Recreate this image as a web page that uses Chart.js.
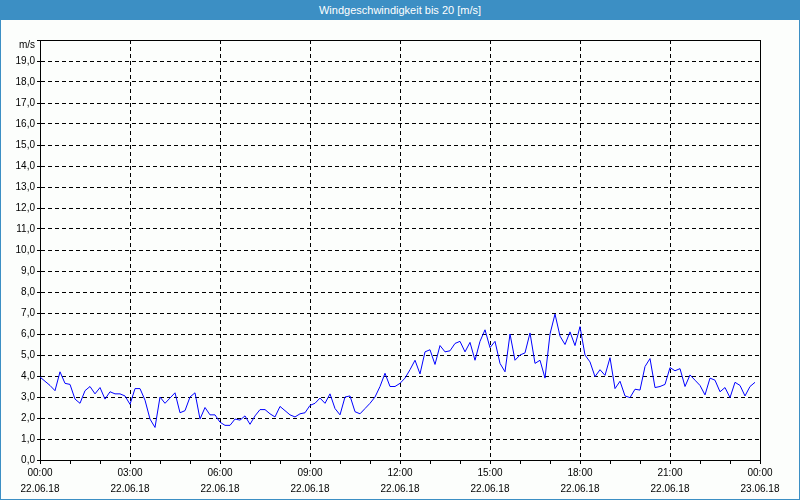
<!DOCTYPE html>
<html lang="de">
<head>
  <meta charset="UTF-8">
  <title>Windgeschwindigkeit bis 20 [m/s]</title>
  <style>
    body {
      margin: 0;
      background: #ffffff;
    }
    .title-bar {
      width: 800px;
      height: 20px;
      line-height: 20px;
      background: #3c8fc4;
      color: #ffffff;
      font-family: "Liberation Sans", Arial, sans-serif;
      font-size: 11px;
      text-align: center;
    }
    .frame {
      width: 800px;
      height: 480px;
      box-sizing: border-box;
      border: 1px solid #3c8fc4;
      border-top: none;
      background: #fcfefc;
    }
    canvas {
      display: block;
    }
  </style>
</head>
<body>

  <div class="title-bar">Windgeschwindigkeit bis 20 [m/s]</div>
  <div class="frame">
    <canvas id="windChart" width="798" height="479"></canvas>
  </div>

  <script src="https://cdn.jsdelivr.net/npm/chart.js"></script>

  <script>
    // Zeitachse: 22.06.18 00:00 bis 23.06.18 00:00, Messwert alle 10 Minuten
    const stepMinutes = 10;
    const timeLabels = ['00:00', '03:00', '06:00', '09:00', '12:00', '15:00', '18:00', '21:00', '00:00'];
    const dateLabels = ['22.06.18', '22.06.18', '22.06.18', '22.06.18', '22.06.18', '22.06.18', '22.06.18', '22.06.18', '23.06.18'];
    const unitLabel = 'm/s';

    // Windgeschwindigkeit in m/s
    const windSpeed = [
      3.95, 3.75, 3.55, 3.3, 4.2, 3.65, 3.6, 2.9, 2.7, 3.3,
      3.5, 3.15, 3.45, 2.9, 3.25, 3.15, 3.15, 3.05, 2.65, 3.4,
      3.4, 2.85, 1.95, 1.55, 3.0, 2.7, 2.95, 3.2, 2.25, 2.35,
      3.0, 3.2, 1.95, 2.5, 2.15, 2.15, 1.8, 1.65, 1.65, 1.95,
      1.9, 2.1, 1.7, 2.1, 2.4, 2.4, 2.2, 2.05, 2.55, 2.35,
      2.15, 2.05, 2.2, 2.25, 2.6, 2.7, 2.95, 2.7, 3.15, 2.45,
      2.15, 3.0, 3.05, 2.3, 2.2, 2.45, 2.7, 3.0, 3.5, 4.13,
      3.5, 3.5, 3.65, 3.9, 4.3, 4.75, 4.1, 5.15, 5.25, 4.55,
      5.45, 5.15, 5.2, 5.55, 5.65, 5.15, 5.6, 4.75, 5.65, 6.2,
      5.35, 5.65, 4.6, 4.2, 6.0, 4.75, 5.0, 5.1, 6.05, 4.6,
      4.75, 3.9, 6.0, 6.95, 5.9, 5.5, 6.1, 5.45, 6.35, 5.0,
      4.67, 3.97, 4.3, 4.03, 4.87, 3.4, 3.75, 3.05, 2.97, 3.37,
      3.33, 4.45, 4.83, 3.45, 3.5, 3.6, 4.4, 4.25, 4.35, 3.5,
      4.05, 3.8, 3.55, 3.1, 3.9, 3.8, 3.25, 3.45, 2.97, 3.7,
      3.55, 3.05, 3.5, 3.7
    ];

    const points = windSpeed.map((v, i) => ({ x: i * stepMinutes, y: v }));

    // Rahmen oben/rechts um den Plotbereich
    const frameBox = {
      id: 'frameBox',
      beforeDatasetsDraw(chart) {
        const { ctx, chartArea: a } = chart;
        ctx.save();
        ctx.strokeStyle = '#000';
        ctx.lineWidth = 1;
        ctx.strokeRect(Math.round(a.left) + 0.5, Math.round(a.top) + 0.5,
          Math.round(a.right - a.left), Math.round(a.bottom - a.top));
        ctx.restore();
      }
    };

    const ctx = document.getElementById('windChart').getContext('2d');
    new Chart(ctx, {
      type: 'line',
      data: {
        datasets: [{
          data: points,
          borderColor: '#0000ff',
          borderWidth: 1,
          pointRadius: 0,
          tension: 0,
          fill: false
        }]
      },
      options: {
        responsive: false,
        animation: false,
        layout: {
          padding: { top: 20, right: 39, left: 0, bottom: 0 }
        },
        plugins: {
          legend: { display: false },
          tooltip: { enabled: false }
        },
        scales: {
          x: {
            type: 'linear',
            min: 0,
            max: 1440,
            afterFit: s => { s.height = 39; },
            grid: {
              color: c => (c.tick && c.tick.value % 180 === 0) ? '#000' : 'rgba(0,0,0,0)',
              tickColor: '#000',
              tickLength: 4,
              lineWidth: 1
            },
            border: { display: true, color: '#000', width: 1, dash: [4, 3] },
            ticks: {
              stepSize: 60,
              autoSkip: false,
              maxRotation: 0,
              padding: 1,
              color: '#000',
              font: { family: 'Liberation Sans', size: 10, lineHeight: '16px' },
              callback: v => v % 180 === 0 ? [timeLabels[v / 180], dateLabels[v / 180]] : ''
            }
          },
          y: {
            min: 0,
            max: 20,
            afterFit: s => { s.width = 39; },
            grid: {
              color: c => (c.tick && c.tick.value > 0 && c.tick.value < 20) ? '#000' : 'rgba(0,0,0,0)',
              tickColor: '#000',
              tickLength: 3,
              lineWidth: 1
            },
            border: { display: true, color: '#000', width: 1, dash: [4, 3] },
            ticks: {
              stepSize: 1,
              autoSkip: false,
              padding: 2,
              color: '#000',
              font: { family: 'Liberation Sans', size: 10, lineHeight: '10px' },
              callback: v => v === 20 ? ['', unitLabel] : v.toFixed(1).replace('.', ',')
            }
          }
        }
      },
      plugins: [frameBox]
    });
  </script>

</body>
</html>
